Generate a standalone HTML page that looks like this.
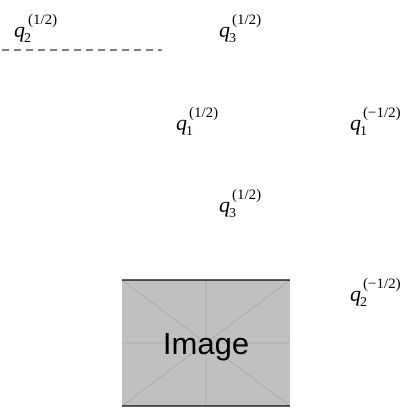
<!DOCTYPE html>
<html><head><meta charset="utf-8"><style>
html,body{margin:0;padding:0;background:#fff;width:420px;height:420px;overflow:hidden}
svg{display:block}
.q{font-family:"Liberation Serif",serif;font-style:italic;font-size:22px;fill:#000}
.s{font-family:"Liberation Serif",serif;font-size:15px;fill:#000}
.x{font-family:"Liberation Serif",serif;font-size:14px;fill:#000}
</style></head><body>
<svg width="420" height="420" viewBox="0 0 420 420">
  <g>
    <text class="q" x="14" y="37">q</text><text class="x" x="24" y="42">2</text><text class="s" x="28" y="24">(1/2)</text>
  </g>
  <line x1="2" y1="50" x2="162" y2="50" stroke="#000" stroke-width="1" stroke-dasharray="7,5"/>
  <g>
    <text class="q" x="219" y="37">q</text><text class="x" x="229" y="42">3</text><text class="s" x="232" y="24">(1/2)</text>
  </g>
  <g>
    <text class="q" x="176" y="130">q</text><text class="x" x="186" y="135">1</text><text class="s" x="189" y="117">(1/2)</text>
  </g>
  <g>
    <text class="q" x="350" y="130">q</text><text class="x" x="360" y="135">1</text><text class="s" x="363" y="117">(−1/2)</text>
  </g>
  <g>
    <text class="q" x="219" y="212">q</text><text class="x" x="229" y="217">3</text><text class="s" x="232" y="199">(1/2)</text>
  </g>
  <g>
    <text class="q" x="350" y="301">q</text><text class="x" x="360" y="306">2</text><text class="s" x="363" y="288">(−1/2)</text>
  </g>
  <g>
    <rect x="122" y="280" width="168" height="126" fill="#c0c0c0"/>
    <line x1="122" y1="280" x2="290" y2="406" stroke="#a8a8a8" stroke-width="0.8"/>
    <line x1="290" y1="280" x2="122" y2="406" stroke="#a8a8a8" stroke-width="0.8"/>
    <line x1="206" y1="280" x2="206" y2="406" stroke="#a8a8a8" stroke-width="0.8"/>
    <line x1="122" y1="343" x2="290" y2="343" stroke="#a8a8a8" stroke-width="0.8"/>
    <line x1="122" y1="280" x2="290" y2="280" stroke="#000" stroke-width="1.3"/>
    <line x1="122" y1="406" x2="290" y2="406" stroke="#000" stroke-width="1.3"/>
    <text x="206" y="354" text-anchor="middle" font-family="'Liberation Sans',sans-serif" font-size="31" fill="#000">Image</text>
  </g>
</svg>
</body></html>
